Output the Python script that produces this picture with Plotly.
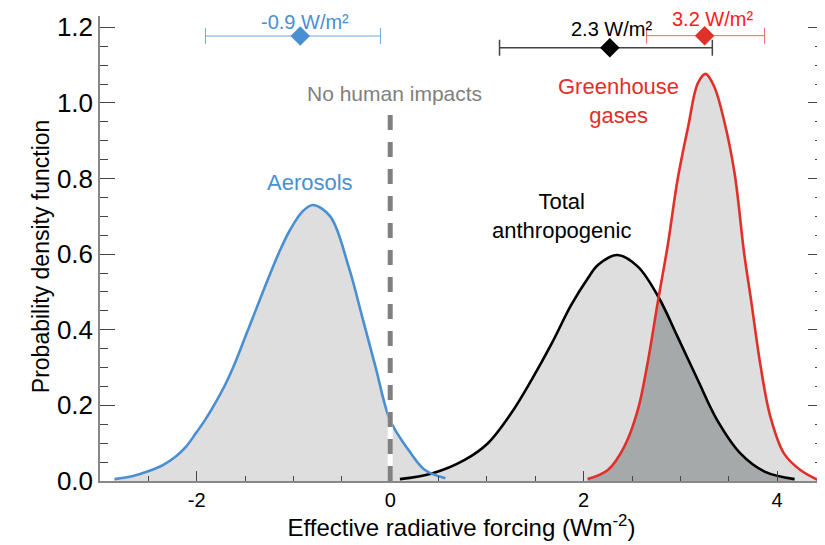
"""Effective radiative forcing PDFs: aerosols, total anthropogenic, greenhouse gases."""

import plotly.graph_objects as go

# Aerosols PDF
aer_x = [-2.85, -2.66, -2.51, -2.35, -2.22, -2.11, -2.01, -1.91, -1.8, -1.7, -1.6,
         -1.5, -1.39, -1.29, -1.15, -1.04, -0.91, -0.8, -0.62, -0.43, -0.29, -0.15,
         0.0, 0.19, 0.36, 0.57]
aer_y = [0.005, 0.013, 0.025, 0.042, 0.064, 0.091, 0.126, 0.163, 0.21, 0.258, 0.315,
         0.38, 0.452, 0.517, 0.604, 0.662, 0.712, 0.73, 0.70, 0.567, 0.435, 0.30,
         0.16, 0.082, 0.029, 0.007]

# Total anthropogenic PDF
total_x = [0.1, 0.43, 0.77, 1.01, 1.25, 1.46, 1.67, 1.87, 2.04, 2.15,
           2.35, 2.56, 2.77, 2.97, 3.18, 3.38, 3.62, 3.87, 4.18]
total_y = [0.005, 0.02, 0.056, 0.10, 0.179, 0.267, 0.364, 0.465, 0.535, 0.572,
           0.598, 0.567, 0.488, 0.382, 0.267, 0.161, 0.073, 0.025, 0.005]

# Greenhouse gases PDF
ghg_x = [2.04, 2.25, 2.42, 2.56, 2.66, 2.77, 2.87, 2.97, 3.08, 3.18, 3.26,
         3.35, 3.45, 3.56, 3.66, 3.73, 3.83, 3.93, 4.07, 4.24, 4.42]
ghg_y = [0.005, 0.029, 0.091, 0.188, 0.311, 0.479, 0.625, 0.796, 0.937, 1.052, 1.077,
         1.043, 0.955, 0.814, 0.60, 0.479, 0.302, 0.17, 0.073, 0.029, 0.003]

# where the total and GHG curves cross
cross_x, cross_y = 2.775, 0.484

# best estimates and 5-95% ranges shown at the top
best_vals = [-0.93, 2.27, 3.25]
range_lo = [-1.91, 1.13, 2.65]
range_hi = [-0.10, 3.33, 3.87]
bar_y = [1.177, 1.146, 1.178]
best_labels = ['-0.9 W/m²', '2.3 W/m²', '3.2 W/m²']

x_ticks = [-2, 0, 2, 4]
x_ticklabels = ['-2', '0', '2', '4']

BLUE = '#4a8fd2'
RED = '#e0302a'
FILL = '#dedede'
OVERLAP = '#a6a9aa'
FONT = 'Liberation Sans, Arial, Helvetica, sans-serif'

fig = go.Figure()

# light grey fills under each curve
for xs, ys in [(aer_x, aer_y), (total_x, total_y), (ghg_x, ghg_y)]:
    fig.add_trace(go.Scatter(
        x=xs, y=ys, mode='lines', fill='tozeroy', fillcolor=FILL,
        line=dict(width=0, shape='spline', color=FILL), hoverinfo='skip'
    ))

# darker overlap between total and GHG
ov_x = [x for x in ghg_x if x < cross_x] + [cross_x] + [x for x in total_x if x > cross_x]
ov_y = ([y for x, y in zip(ghg_x, ghg_y) if x < cross_x] + [cross_y]
        + [y for x, y in zip(total_x, total_y) if x > cross_x])
fig.add_trace(go.Scatter(
    x=ov_x, y=ov_y, mode='lines', fill='tozeroy', fillcolor=OVERLAP,
    line=dict(width=0, shape='spline', color=OVERLAP), hoverinfo='skip'
))

# curve outlines
fig.add_trace(go.Scatter(x=total_x, y=total_y, mode='lines',
                         line=dict(color='black', width=2.6, shape='spline')))
fig.add_trace(go.Scatter(x=ghg_x, y=ghg_y, mode='lines',
                         line=dict(color=RED, width=2.6, shape='spline')))
fig.add_trace(go.Scatter(x=aer_x, y=aer_y, mode='lines',
                         line=dict(color=BLUE, width=2.6, shape='spline')))

# best estimate diamonds with ranges
marker_cols = [BLUE, 'black', RED]
bar_cols = ['#6fa8dc', '#444444', '#e86a6a']
bar_w = [1, 1.5, 1]
for i in range(3):
    fig.add_trace(go.Scatter(
        x=[best_vals[i]], y=[bar_y[i]], mode='markers',
        marker=dict(symbol='diamond', size=15, color=marker_cols[i]),
        error_x=dict(type='data', symmetric=False,
                     array=[range_hi[i] - best_vals[i]],
                     arrayminus=[best_vals[i] - range_lo[i]],
                     color=bar_cols[i], thickness=bar_w[i], width=8),
        cliponaxis=False
    ))

# "No human impacts" line at zero
fig.add_shape(type='line', x0=0, x1=0, y0=0, y1=0.98,
              line=dict(color='white', width=5))
fig.add_shape(type='line', x0=0, x1=0, y0=0, y1=0.98,
              line=dict(color='#808080', width=5, dash='15px,12px'))

label_cols = [BLUE, 'black', '#ff1a1a']
label_pos = [(-0.886, 1.215), (2.29, 1.195), (3.33, 1.221)]
for txt, col, (lx, ly) in zip(best_labels, label_cols, label_pos):
    fig.add_annotation(x=lx, y=ly, text=txt, showarrow=False,
                       font=dict(size=20, color=col, family=FONT))

fig.add_annotation(x=0.04, y=1.026, text='No human impacts', showarrow=False,
                   font=dict(size=21, color='#808080', family=FONT))
fig.add_annotation(x=-0.83, y=0.79, text='Aerosols', showarrow=False,
                   font=dict(size=22, color=BLUE, family=FONT))
fig.add_annotation(x=1.77, y=0.70, text='Total<br>anthropogenic', showarrow=False,
                   font=dict(size=22, color='black', family=FONT))
fig.add_annotation(x=2.36, y=1.006, text='Greenhouse<br>gases', showarrow=False,
                   font=dict(size=22, color=RED, family=FONT))

# y axis title placed by hand so it sits close to the left edge
fig.add_annotation(xref='paper', yref='paper', x=-0.102, y=0.484,
                   text='Probability density function', textangle=-90,
                   showarrow=False, font=dict(size=23, color='black', family=FONT))

# page body adds an 8px offset, so the figure is 8px smaller than the window
fig.update_layout(
    width=817, height=537,
    margin=dict(l=92, r=0, t=8, b=64),
    plot_bgcolor='white', paper_bgcolor='white',
    showlegend=False,
    font=dict(family=FONT, color='black'),
    xaxis=dict(
        range=[-3, 4.474], showgrid=False, zeroline=False,
        showline=True, linecolor='#888', linewidth=1.5,
        tickmode='array', tickvals=x_ticks, ticktext=x_ticklabels,
        ticks='inside', ticklen=10, tickcolor='#444', tickwidth=1.2,
        minor=dict(dtick=0.5, tick0=0, ticks='inside', ticklen=5, tickcolor='#444'),
        tickfont=dict(size=20),
        title=dict(text='Effective radiative forcing (Wm<sup>-2</sup>)',
                   font=dict(size=24), standoff=6),
    ),
    yaxis=dict(
        range=[0, 1.23], showgrid=False, zeroline=False,
        showline=True, linecolor='#888', linewidth=1.5, mirror='ticks',
        dtick=0.2, tick0=0, tickformat='.1f',
        ticks='inside', ticklen=15, tickcolor='#444', tickwidth=1.2,
        minor=dict(dtick=0.05, tick0=0, ticks='inside', ticklen=8, tickcolor='#444'),
        tickfont=dict(size=26),
    ),
)

fig.write_html("out.html")
